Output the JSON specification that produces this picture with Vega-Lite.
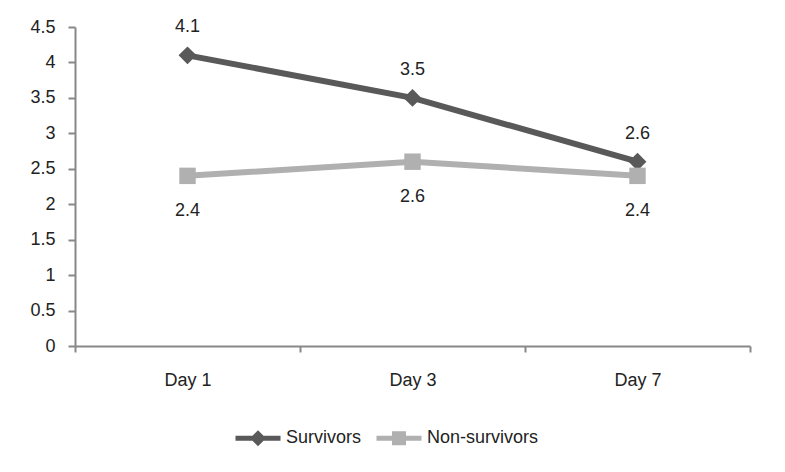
{
  "$schema": "https://vega.github.io/schema/vega-lite/v6.json",
  "width": 675,
  "height": 319,
  "autosize": "none",
  "padding": {"left": 75, "top": 27, "right": 35, "bottom": 126},
  "background": "white",
  "config": {"view": {"stroke": null}, "font": "Liberation Sans"},
  "data": {
    "values": [
      {"series": "Survivors", "day": "Day 1", "value": 4.1},
      {"series": "Survivors", "day": "Day 3", "value": 3.5},
      {"series": "Survivors", "day": "Day 7", "value": 2.6},
      {"series": "Non-survivors", "day": "Day 1", "value": 2.4},
      {"series": "Non-survivors", "day": "Day 3", "value": 2.6},
      {"series": "Non-survivors", "day": "Day 7", "value": 2.4}
    ]
  },
  "encoding": {
    "x": {
      "field": "day", "type": "nominal", "sort": ["Day 1", "Day 3", "Day 7"],
      "scale": {"paddingInner": 0, "paddingOuter": 0},
      "axis": {"title": null, "labelAngle": 0, "tickBand": "extent", "domainColor": "#888888", "tickColor": "#888888", "domainWidth": 2, "tickWidth": 2, "tickSize": 6, "labelPadding": 19, "labelFontSize": 18, "labelColor": "#222222"}
    },
    "y": {
      "field": "value", "type": "quantitative",
      "scale": {"domain": [0, 4.5], "nice": false},
      "axis": {"title": null, "grid": false, "values": [0, 0.5, 1, 1.5, 2, 2.5, 3, 3.5, 4, 4.5], "format": "~g", "domainColor": "#888888", "tickColor": "#888888", "domainWidth": 2, "tickWidth": 2, "tickSize": 7, "labelPadding": 13, "labelFontSize": 18, "labelColor": "#222222"}
    },
    "color": {
      "field": "series", "type": "nominal",
      "scale": {"domain": ["Survivors", "Non-survivors"], "range": ["#595959", "#b0b0b0"]},
      "legend": {
        "orient": "none", "legendX": 158, "legendY": 386, "direction": "horizontal", "title": null,
        "labelFontSize": 18, "labelColor": "#222222", "symbolSize": 2025, "symbolStrokeWidth": 5,
        "columnPadding": 4, "labelOffset": 3,
        "encode": {
          "symbols": {
            "update": {
              "shape": {"signal": "datum.value === 'Survivors' ? 'M-1,0H1M0,-0.2L0.2,0L0,0.2L-0.2,0Z' : 'M-1,0H1M-0.2,-0.2H0.2V0.2H-0.2Z'"},
              "fill": {"signal": "scale('color', datum.value)"},
              "stroke": {"signal": "scale('color', datum.value)"},
              "strokeWidth": {"value": 5},
              "opacity": {"value": 1}
            }
          }
        }
      }
    }
  },
  "layer": [
    {"mark": {"type": "line", "strokeWidth": 6}},
    {
      "transform": [{"filter": "datum.series === 'Survivors'"}],
      "mark": {"type": "point", "filled": true, "opacity": 1, "size": 320, "shape": "diamond"}
    },
    {
      "transform": [{"filter": "datum.series === 'Non-survivors'"}],
      "mark": {"type": "point", "filled": true, "opacity": 1, "size": 270, "shape": "square"}
    },
    {
      "transform": [{"filter": "datum.series === 'Survivors'"}],
      "mark": {"type": "text", "fontSize": 18, "dy": -28, "baseline": "middle"},
      "encoding": {"text": {"field": "value", "type": "quantitative", "format": ".1f"}, "color": {"value": "#222222"}}
    },
    {
      "transform": [{"filter": "datum.series === 'Non-survivors'"}],
      "mark": {"type": "text", "fontSize": 18, "dy": 35, "baseline": "middle"},
      "encoding": {"text": {"field": "value", "type": "quantitative", "format": ".1f"}, "color": {"value": "#222222"}}
    }
  ]
}
